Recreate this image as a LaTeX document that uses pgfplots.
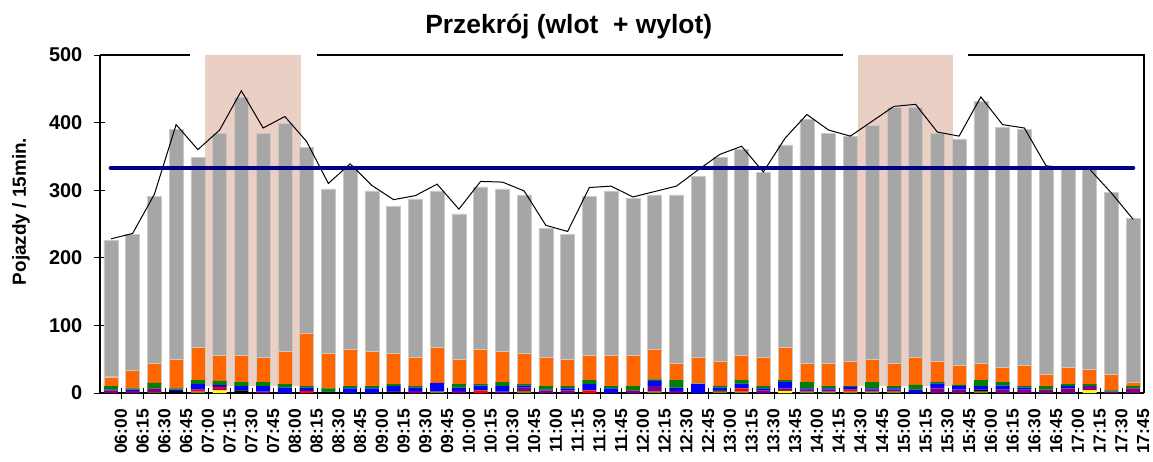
\documentclass[border=0pt]{standalone}
\usepackage{pgfplots}
\pgfplotsset{compat=1.18}
\usepackage{pgfplotstable}
\usepackage{fontspec}
\setmainfont{Liberation Sans}

\definecolor{cgray}{RGB}{166,166,166}
\definecolor{corange}{RGB}{255,102,0}
\definecolor{cgreen}{RGB}{0,128,0}
\definecolor{cblue}{RGB}{0,0,255}
\definecolor{cred}{RGB}{255,0,0}
\definecolor{cpurple}{RGB}{128,0,128}
\definecolor{colive}{RGB}{128,128,0}
\definecolor{cyellow}{RGB}{255,255,0}
\definecolor{cnavy}{RGB}{0,0,128}
\definecolor{cshade}{RGB}{234,208,196}
\definecolor{cedge}{RGB}{210,198,192}

\pgfplotstableread{
i olv yel blk pur red blu grn org gry line
0 0 0 0 4 0 1 5 14 202 228
1 0 0 0 3 0 2 2 26 202 236
2 1 0 0 6 0 0 8 29 247 294
3 0 0 3 0 0 2 2 43 340 397
4 2 0 0 0 3 8 6 49 281 360
5 0 4 0 2 3 3 6 38 328 389
6 0 0 4 0 0 6 6 40 381 447
7 0 0 0 2 0 8 6 37 331 392
8 0 0 0 0 0 8 5 49 337 409
9 0 0 0 0 3 5 2 79 274 372
10 0 0 2 0 0 0 5 52 243 310
11 0 0 0 0 0 7 3 55 271 339
12 0 0 0 0 0 7 3 52 237 307
13 0 0 2 0 0 8 3 46 217 286
14 0 0 0 3 0 5 2 43 234 292
15 2 0 0 0 0 13 0 53 231 309
16 0 0 0 3 0 5 5 37 215 272
17 0 0 0 0 4 7 2 52 240 313
18 0 0 0 2 0 8 6 46 240 312
19 3 0 0 5 0 3 2 46 234 299
20 0 0 0 4 0 1 5 43 191 248
21 0 0 0 4 0 3 3 40 185 239
22 0 0 0 0 4 9 6 37 235 304
23 0 0 0 0 0 7 3 46 243 306
24 0 0 0 4 0 0 6 46 232 290
25 2 0 0 8 0 8 2 45 228 298
26 0 0 0 3 0 5 11 25 249 306
27 0 0 0 0 0 13 1 39 267 330
28 2 0 2 0 0 4 2 37 302 353
29 2 0 0 0 5 7 5 37 305 365
30 0 0 0 4 0 3 3 43 273 327
31 0 3 0 4 0 9 3 49 299 377
32 2 0 0 3 0 2 9 28 361 412
33 2 0 0 3 0 2 3 34 340 389
34 2 0 0 0 3 4 1 37 332 380
35 2 0 0 3 0 2 9 34 346 402
36 2 0 0 3 0 2 3 34 378 424
37 0 0 0 0 0 5 7 41 369 427
38 0 0 0 7 0 7 2 31 337 386
39 0 0 0 5 0 5 2 29 335 380
40 2 0 3 0 0 5 9 25 387 438
41 0 0 0 5 0 6 5 22 355 397
42 0 0 0 5 0 3 2 31 349 392
43 0 0 0 5 0 0 5 17 306 336
44 0 0 0 7 0 3 3 25 295 333
45 0 4 0 6 0 0 3 22 297 331
46 0 0 0 2 0 0 2 23 270 296
47 0 0 0 7 0 0 3 6 242 257
}\data

\begin{document}
\begin{tikzpicture}
\useasboundingbox (-100bp,-69bp) rectangle (1053bp,393bp);
\pgfplotsset{common/.style={width=1044bp,height=338bp,scale only axis,
  xmin=-0.5,xmax=47.5,ymin=0,ymax=500,at={(0,0)},anchor=south west}}

% shaded periods
\begin{axis}[common, hide axis]
\fill[cshade] (axis cs:4.35,10) rectangle (axis cs:8.72,500);
\fill[cshade] (axis cs:34.35,10) rectangle (axis cs:38.70,500);
\end{axis}

% stacked bars
\begin{axis}[common, ybar stacked, bar width=0.64,
  axis x line*=bottom, axis y line*=left,
  axis line style={black, line width=1.2bp},
  tick style={black, line width=1bp},
  tick align=center, major tick length=11bp,
  ytick={0,100,...,500},
  /pgf/number format/assume math mode=true,
  yticklabel style={font=\bfseries\fontsize{20}{20}\selectfont, inner sep=0pt, xshift=-12bp},
  xtick={0.5,1.5,...,46.5}, xticklabels={},
  extra x ticks={0.46,1.46,...,47.46},
  extra x tick labels={06:00,06:15,06:30,06:45,07:00,07:15,07:30,07:45,08:00,08:15,08:30,08:45,09:00,09:15,09:30,09:45,10:00,10:15,10:30,10:45,11:00,11:15,11:30,11:45,12:00,12:15,12:30,12:45,13:00,13:15,13:30,13:45,14:00,14:15,14:30,14:45,15:00,15:15,15:30,15:45,16:00,16:15,16:30,16:45,17:00,17:15,17:30,17:45},
  extra x tick style={major tick length=0pt, grid=none},
  xticklabel style={rotate=90, anchor=east, inner sep=0pt, xshift=-16bp,
    font=\bfseries\fontsize{17.5}{17.5}\selectfont},
  title={Przekrój (wlot \ + wylot)},
  title style={at={(0.449,1.066)}, anchor=center, inner sep=0pt,
    font=\bfseries\fontsize{26.5}{26.5}\selectfont},
  ylabel={Pojazdy / 15min.},
  ylabel style={at={(-0.0757,0.537)}, anchor=center, inner sep=0pt,
    font=\bfseries\fontsize{19}{19}\selectfont},
]
\addplot[fill=colive, draw=none] table[x=i,y=olv]{\data};
\addplot[fill=cyellow, draw=none] table[x=i,y=yel]{\data};
\addplot[fill=black, draw=none] table[x=i,y=blk]{\data};
\addplot[fill=cpurple, draw=none] table[x=i,y=pur]{\data};
\addplot[fill=cred, draw=none] table[x=i,y=red]{\data};
\addplot[fill=cblue, draw=none] table[x=i,y=blu]{\data};
\addplot[fill=cgreen, draw=none] table[x=i,y=grn]{\data};
\addplot[fill=corange, draw=cedge, line width=0.5bp] table[x=i,y=org]{\data};
\addplot[fill=cgray, draw=cedge, line width=0.6bp] table[x=i,y=gry]{\data};
\end{axis}

% lines and frame
\begin{axis}[common, hide axis, clip=false]
\addplot[black, line width=1bp, mark=none] table[x=i,y=line]{\data};
\addplot[cnavy, line width=4.5bp, line cap=round, mark=none] coordinates {(0,333) (47,333)};
\draw[black, line width=1.2bp] (axis cs:-0.5,500) -- (axis cs:3.64,500);
\draw[black, line width=1.2bp] (axis cs:9.48,500) -- (axis cs:33.66,500);
\draw[black, line width=1.2bp] (axis cs:39.4,500) -- (axis cs:47.5,500) -- (axis cs:47.5,0);
\end{axis}
\end{tikzpicture}
\end{document}
